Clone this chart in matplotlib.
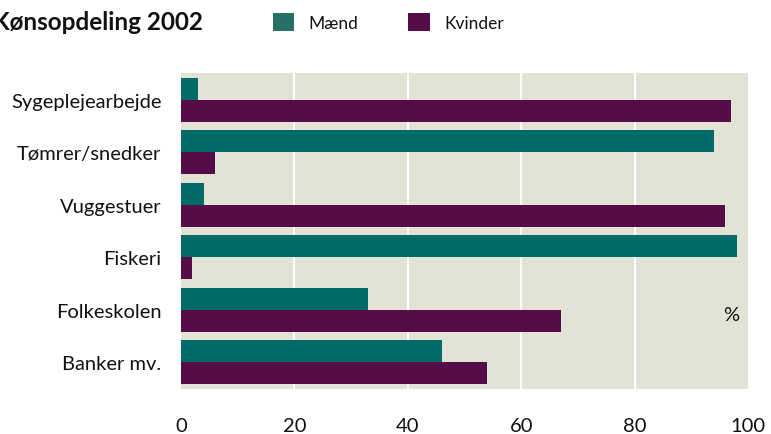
import matplotlib.pyplot as plt
from matplotlib.patches import Patch

plt.rcParams['font.family'] = ['Lato', 'DejaVu Sans']

categories = ['Sygeplejearbejde', 'Tømrer/snedker', 'Vuggestuer', 'Fiskeri', 'Folkeskolen', 'Banker mv.']
maend = [3, 94, 4, 98, 33, 46]
kvinder = [97, 6, 96, 2, 67, 54]
xticks = [0, 20, 40, 60, 80, 100]

teal = '#006b68'
purple = '#550d4a'
bg = '#e2e2d5'

fig = plt.figure(figsize=(7.71, 4.35), dpi=100)
ax = fig.add_axes([181 / 771, 45 / 435, 567 / 771, 316 / 435])
ax.set_facecolor(bg)

h = 0.42
y = list(range(len(categories)))
ax.barh([i - h / 2 for i in y], maend, height=h, color=teal, zorder=2)
ax.barh([i + h / 2 for i in y], kvinder, height=h, color=purple, zorder=2)

for g in xticks[1:-1]:
    ax.axvline(g, color='white', lw=1.5, zorder=1)

ax.set_xlim(0, 100)
ax.set_ylim(5.51, -0.51)
ax.set_xticks(xticks)
ax.set_yticks(y)
ax.set_yticklabels(categories)
ax.tick_params(axis='x', length=0, pad=20, labelsize=14.5, colors='#111111')
ax.tick_params(axis='y', length=0, pad=14, labelsize=14.5, colors='#111111')
for s in ax.spines.values():
    s.set_visible(False)

ax.text(98.5, 4.1, '%', ha='right', va='center', fontsize=14.5, color='#111111')

fig.text(203 / 771, 1 - 22 / 435, 'Kønsopdeling 2002', ha='right', va='center',
         fontsize=17.5, fontweight='bold', color='#111111')

handles = [Patch(facecolor='#267068', label='Mænd'), Patch(facecolor=purple, label='Kvinder')]
fig.legend(handles=handles, ncol=2, frameon=False, loc='center left',
           bbox_to_anchor=(257 / 771, 1 - 23 / 435), fontsize=12.5,
           handlelength=1.25, handleheight=1.25, handletextpad=0.8,
           columnspacing=2.9, labelcolor='#111111')

fig.savefig('out.png', dpi=100)
